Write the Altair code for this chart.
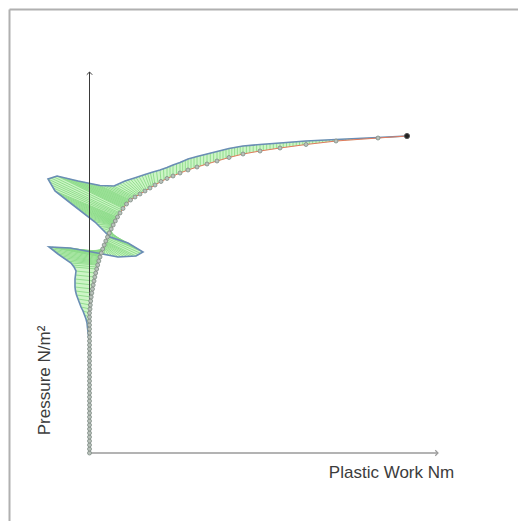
import math
import altair as alt
import pandas as pd

# ---- curve (markers): Plastic Work vs Pressure ----
curve_work = [0, 0, 0, 0, 0, 0, 0, 0, 0, 0, 0, 0, 0, 0, 0, 0, 0, 0,
              0, 0, 0, 0, 0, 0, 0, 0, 0, 0, 0, 0, 0, 0, 0, 0, 0, 0,
              0.5, 0.8, 1.2, 1.7, 2.3, 3, 3.7, 4.5, 5.3, 6.2,
              7.2, 8.2, 9.3, 10.5, 11.8, 13.2, 14.7, 16.3, 18, 19.8,
              21.7, 23.7, 25.8, 28, 30.5, 33.5, 37, 41, 45.5, 50.5,
              55.5, 60.5, 65.5, 71.5, 77.5, 83.5, 90.5, 98.5, 107.5, 117.5,
              127.5, 139.5, 153.5, 170.5, 190.5, 216.5, 246.5, 288.5, 317.5]
curve_pressure = [0, 4, 8, 12, 16, 20, 24, 28, 32, 36, 40, 44, 48, 52, 56, 60, 64, 68,
                  72, 76, 80, 84, 88, 92, 96, 100, 104, 108, 112, 116, 120, 124, 128, 132, 136, 140,
                  144, 148, 152, 156, 160, 164, 168, 172, 176, 180,
                  184, 188, 192, 196, 200, 204, 208, 212, 216, 220,
                  224, 228, 232, 236, 240, 244.5, 249, 253, 256, 259,
                  262, 265, 268, 271.5, 274.5, 277, 280, 283, 286, 289,
                  292, 295.5, 299, 302, 305, 308.5, 312, 315, 317]

# ---- outline (vector tips) paired with each curve point ----
outline_work = [0, 0, 0, 0, 0, 0, 0, 0, 0, 0, 0, 0, 0, 0, 0, 0, 0, 0,
                0, 0, 0, 0, 0, 0, 0, 0, 0, 0, -0.5, -1, -1.5, -2, -2.5, -3.5, -5, -6.5,
                -8.5, -10, -11.5, -13, -14, -14.5, -14.5, -14.5, -14, -13.5,
                -15.5, -18.5, -31.5, -40.5, -19.5, 2.5, 28.5, 46.5, 53.5, 38.5,
                20.5, 5.5, -16.5, -34.5, -41.5, -32.5, -11.5, 10.5, 24.5, 35.5,
                46.5, 55.5, 63.5, 70.5, 77.5, 83.5, 90.5, 98.5, 107.5, 117.5,
                127.5, 139.5, 153.5, 170.5, 190.5, 216.5, 246.5, 288.5, 317.5]
outline_pressure = [0, 4, 8, 12, 16, 20, 24, 28, 32, 36, 40, 44, 48, 52, 56, 60, 64, 68,
                    72, 76, 80, 84, 88, 92, 96, 100, 104, 109, 113, 117, 121, 125, 130, 134, 138, 142,
                    146, 150, 154, 158, 162, 166, 170, 174, 178, 182,
                    186, 190, 199, 206, 205, 201, 196, 197, 201, 210,
                    216, 231, 248, 262, 274, 277, 272, 267.5, 267, 272,
                    275.5, 278.5, 281, 283, 285.5, 288, 290.5, 294, 296.5, 299,
                    301.5, 304.5, 307, 308.5, 310, 312, 313.5, 315.5, 317]

# axis extents (arrow tips)
axis_work_max = 348.5
axis_pressure_max = 381

x_title = "Plastic Work Nm"
y_title = "Pressure N/m²"

N = len(curve_work)
curve_df = pd.DataFrame({"w": curve_work, "p": curve_pressure, "i": list(range(N))})
outline_df = pd.DataFrame({"w": outline_work, "p": outline_pressure, "i": list(range(N))})

poly_rows = [{"w": curve_work[k], "p": curve_pressure[k], "i": k} for k in range(N)]
poly_rows += [{"w": outline_work[k], "p": outline_pressure[k], "i": 2 * N - 1 - k} for k in range(N)]
poly_df = pd.DataFrame(poly_rows)

# hatching pattern between curve and outline
hatch = []
for k in range(N - 1):
    cw0, cp0, cw1, cp1 = curve_work[k], curve_pressure[k], curve_work[k + 1], curve_pressure[k + 1]
    ow0, op0, ow1, op1 = outline_work[k], outline_pressure[k], outline_work[k + 1], outline_pressure[k + 1]
    L = max(math.hypot(cw1 - cw0, cp1 - cp0), math.hypot(ow1 - ow0, op1 - op0))
    n = max(1, int(round(L / 3.2)))
    for j in range(n):
        t = j / n
        a = (cw0 + (cw1 - cw0) * t, cp0 + (cp1 - cp0) * t)
        b = (ow0 + (ow1 - ow0) * t, op0 + (op1 - op0) * t)
        if math.hypot(b[0] - a[0], b[1] - a[1]) > 0.6:
            hatch.append({"w": a[0], "p": a[1], "w2": b[0], "p2": b[1]})
hatch_df = pd.DataFrame(hatch)

xs = alt.Scale(domain=[-81.5, 428.5], nice=False, zero=False)
ys = alt.Scale(domain=[-68, 445], nice=False, zero=False)
FONT = "Liberation Sans"
xaxis = alt.Axis(title=x_title, domain=False, ticks=False, labels=False, grid=False,
                 titleX=383, titleY=-44, titleAlign="center", titleBaseline="alphabetic",
                 titleFont=FONT, titleFontSize=17, titleFontWeight="normal", titleColor="#3c3c3c")
yaxis = alt.Axis(title=y_title, domain=False, ticks=False, labels=False, grid=False,
                 titleX=41, titleY=372, titleAngle=-90, titleAlign="center", titleBaseline="alphabetic",
                 titleFont=FONT, titleFontSize=17, titleFontWeight="normal", titleColor="#3c3c3c")
X = alt.X("w:Q", scale=xs, axis=xaxis)
Y = alt.Y("p:Q", scale=ys, axis=yaxis)

fill = alt.Chart(poly_df).mark_line(interpolate="linear-closed", fill="#cdf5c6", stroke="#cdf5c6",
                                    strokeWidth=0.5).encode(x=X, y=Y, order=alt.Order("i:Q"))
hatch_layer = alt.Chart(hatch_df).mark_rule(color="#8bda88", strokeWidth=0.9).encode(
    x=X, y=Y, x2="w2:Q", y2="p2:Q")

axes_df = pd.DataFrame({"w": [0, 0], "p": [0, 0], "w2": [axis_work_max, 0], "p2": [0, axis_pressure_max],
                        "c": ["x", "y"]})
x_axis_line = alt.Chart(axes_df[axes_df.c == "x"]).mark_rule(color="#9a9a9a", strokeWidth=1.5).encode(
    x=X, y=Y, x2="w2:Q")
y_axis_line = alt.Chart(axes_df[axes_df.c == "y"]).mark_rule(color="#3a3a3a", strokeWidth=1).encode(
    x=X, y=Y, y2="p2:Q")
arrow_x = alt.Chart(pd.DataFrame({"w": [axis_work_max], "p": [0]})).mark_point(
    shape="M-1,-1L0,0L-1,1", size=30, filled=False, color="#9a9a9a", strokeWidth=1.2, opacity=1).encode(x=X, y=Y)
arrow_y = alt.Chart(pd.DataFrame({"w": [0], "p": [axis_pressure_max]})).mark_point(
    shape="M-1,1L0,0L1,1", size=30, filled=False, color="#3a3a3a", strokeWidth=1, opacity=1).encode(x=X, y=Y)

outline = alt.Chart(outline_df).mark_line(color="#6a8db5", strokeWidth=1.6).encode(
    x=X, y=Y, order=alt.Order("i:Q"))
curve = alt.Chart(curve_df).mark_line(color="#e27a5e", strokeWidth=1).encode(
    x=X, y=Y, order=alt.Order("i:Q"))
markers = alt.Chart(curve_df.iloc[:-1]).mark_point(shape="circle", size=16, filled=True, fill="#b9c2bb",
                                                     stroke="#7d8c84", strokeWidth=0.8, opacity=1).encode(x=X, y=Y)
end_marker = alt.Chart(curve_df.iloc[-1:]).mark_point(shape="circle", size=26, filled=True, fill="#222222",
                                                       stroke="#555555", strokeWidth=1, opacity=1).encode(x=X, y=Y)

frame_df = pd.DataFrame({"a": [0]})
frame_left = alt.Chart(frame_df).mark_rule(color="#b0b0b0", strokeWidth=2).encode(
    x=alt.value(1.5), y=alt.value(1.5), y2=alt.value(520))
frame_top = alt.Chart(frame_df).mark_rule(color="#b0b0b0", strokeWidth=2).encode(
    x=alt.value(1.5), x2=alt.value(520), y=alt.value(1.5))

chart = alt.layer(
    fill, hatch_layer, outline, x_axis_line, y_axis_line, arrow_x, arrow_y,
    curve, markers, end_marker, frame_left, frame_top
).properties(
    width=510, height=513, padding=0, autosize=alt.AutoSizeParams(type="none"),
    background="white"
).configure_view(stroke="transparent", strokeWidth=0)

chart.save("out.html", embed_options={"renderer": "svg", "actions": False})
